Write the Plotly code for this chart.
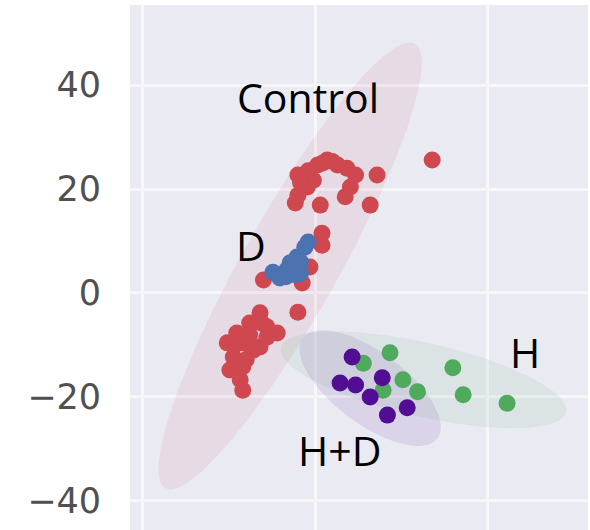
import numpy as np
import plotly.graph_objects as go

# ---- data ----
control_x = [13.6, 7.2, 6.4, 0.6, -2.3, -2.0, -0.8, 0.3, 1.4, 2.6, 3.7, 4.7, 4.1, 3.5, -0.9, -2.0, -0.2, -1.7,
             0.8, 0.8, -0.6, -6.0, -1.5, -2.0,
             -6.4, -5.6, -4.4, -9.1, -10.2, -8.4, -7.2, -9.5, -9.9, -8.4, -8.7, -8.4, -6.4, -5.6, -7.6,
             -7.6, -9.3, -6.2, -8.0, 0.9, 2.0]
control_y = [25.6, 22.7, 16.9, 16.9, 17.3, 22.7, 23.5, 24.6, 25.6, 24.6, 24.0, 22.7, 20.4, 18.5, 20.4, 18.8, 21.7, 21.3,
             11.5, 9.2, 5.0, 2.5, 1.9, -3.7,
             -3.8, -6.5, -7.7, -7.7, -9.6, -9.6, -11.0, -12.3, -14.8, -14.2, -16.7, -18.7, -10.4, -8.5, -5.8,
             -8.1, -10.0, -5.8, -12.8, 25.0, 25.3]

d_x = [-4.9, -3.3, -2.1, -1.2, -1.7, -2.9, -0.8, -4.1, -3.4, -2.3, -1.7]
d_y = [4.0, 4.4, 6.9, 8.8, 3.8, 5.8, 9.8, 2.9, 3.1, 3.5, 6.0]

hd_x = [4.3, 2.9, 4.7, 6.4, 7.8, 10.7, 8.4]
hd_y = [-12.3, -17.3, -17.7, -20.0, -16.3, -22.1, -23.5]

h_x = [5.6, 8.7, 10.2, 11.9, 7.9, 16.0, 17.2, 22.3]
h_y = [-13.5, -11.5, -16.7, -19.0, -18.7, -14.4, -19.6, -21.2]

# confidence ellipses: center and covariance (sxx, syy, sxy)
ell_control = dict(center=(-2.9, 5.2), cov=(234.2, 1850.5, 598.7))
ell_h = dict(center=(12.6, -16.7), cov=(275.5, 87.0, -96.6))
ell_hd = dict(center=(6.4, -18.3), cov=(67.4, 124.1, -61.7))

labels = ["Control", "D", "H", "H+D"]
label_x = [-0.8, -7.4, 24.4, 2.8]
label_y = [37.7, 9.2, -11.3, -30.2]

y_ticks = [-40, -20, 0, 20, 40]

RED = "#CF474F"
BLUE = "#4C72B0"
GREEN = "#4FAA5E"
PURPLE = "#520E93"


def ellipse_path(center, cov, n=200):
    sxx, syy, sxy = cov
    m = np.array([[sxx, sxy], [sxy, syy]])
    vals, vecs = np.linalg.eigh(m)
    t = np.linspace(0, 2 * np.pi, n)
    circ = np.vstack([np.cos(t), np.sin(t)])
    pts = vecs @ (np.sqrt(vals)[:, None] * circ)
    return pts[0] + center[0], pts[1] + center[1]


fig = go.Figure()

for ell, col in [(ell_control, "rgba(205,80,100,0.09)"),
                 (ell_h, "rgba(90,170,110,0.10)"),
                 (ell_hd, "rgba(100,40,160,0.11)")]:
    ex, ey = ellipse_path(ell["center"], ell["cov"])
    fig.add_trace(go.Scatter(x=ex, y=ey, mode="lines", fill="toself", fillcolor=col,
                             line=dict(width=0), hoverinfo="skip", showlegend=False))

for xs, ys, col in [(control_x, control_y, RED), (h_x, h_y, GREEN),
                    (hd_x, hd_y, PURPLE), (d_x, d_y, BLUE)]:
    fig.add_trace(go.Scatter(x=xs, y=ys, mode="markers", showlegend=False,
                             marker=dict(size=17, color=col, line=dict(width=0))))

for t, x, y in zip(labels, label_x, label_y):
    fig.add_annotation(x=x, y=y, text=t, showarrow=False,
                       font=dict(family="Open Sans", size=41, color="black"),
                       xanchor="center", yanchor="middle")

fig.update_layout(
    width=590, height=530,
    margin=dict(l=130, r=2, t=5, b=0),
    paper_bgcolor="white",
    plot_bgcolor="#EAEAF2",
)
fig.update_xaxes(range=[-21.5, 31.7], dtick=20, tick0=0, showticklabels=False,
                 showgrid=True, gridcolor="#F7F7FA", gridwidth=3, zeroline=False, showline=False, ticks="")
fig.update_yaxes(range=[-45.6, 55.4], tickvals=y_ticks, ticktext=["\u221240", "\u221220", "0", "20", "40"],
                 showgrid=True, gridcolor="#F7F7FA", gridwidth=3, zeroline=False, showline=False, ticks="",
                 ticklabelstandoff=28,
                 tickfont=dict(family="DejaVu Sans", size=35, color="#505050"))

fig.write_html("out.html")
